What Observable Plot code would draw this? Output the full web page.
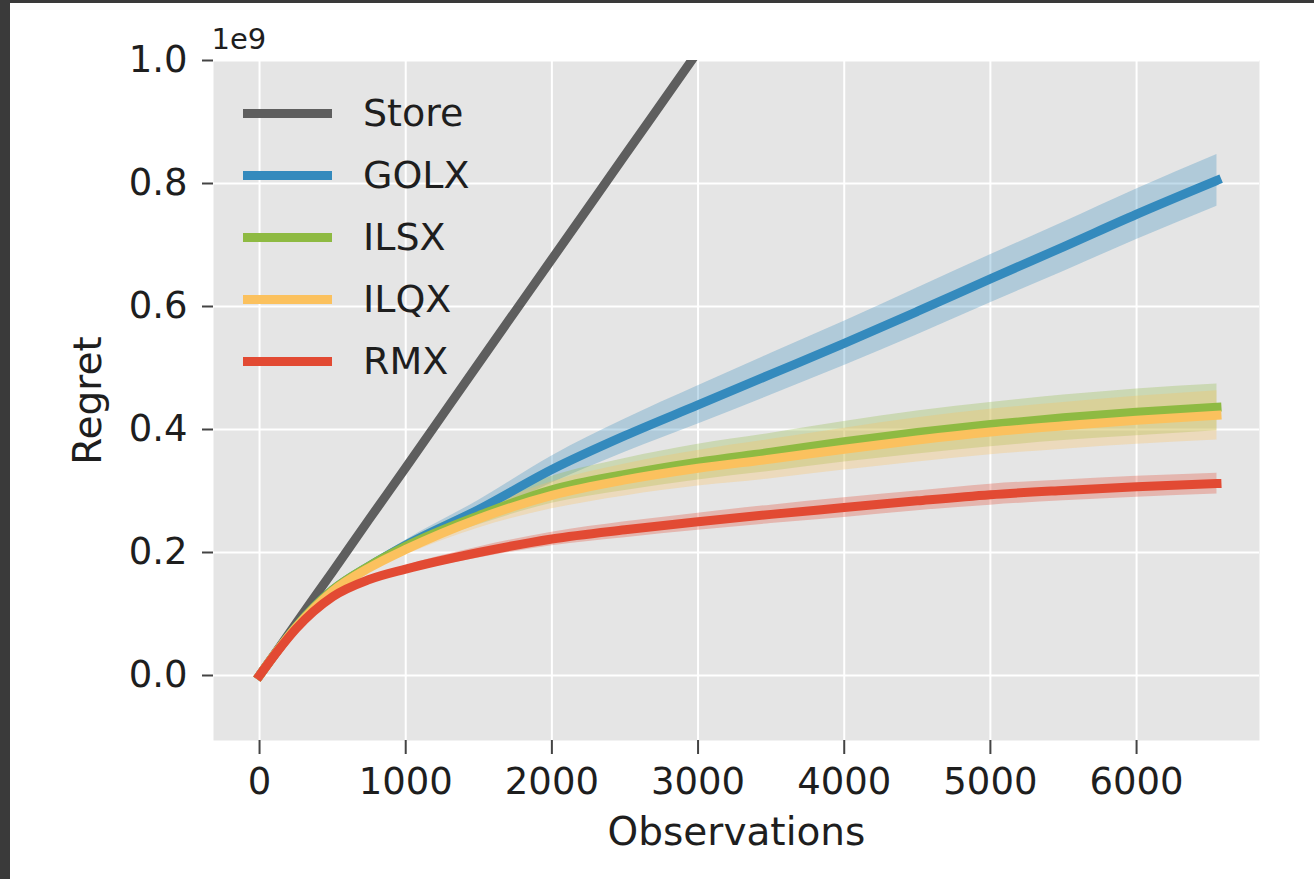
<!DOCTYPE html>
<html>
<head>
<meta charset="utf-8">
<script src="https://cdn.jsdelivr.net/npm/d3@7"></script>
<script src="https://cdn.jsdelivr.net/npm/@observablehq/plot@0.6"></script>
<style>
  html, body { margin: 0; padding: 0; }
  body { width: 1314px; height: 879px; background: #3a3a3a; position: relative; overflow: hidden; font-family: "DejaVu Sans", sans-serif; }
  #sheet { position: absolute; left: 10px; top: 3px; width: 1304px; height: 876px; background: #fff; }
  #chart { position: absolute; left: 0; top: 0; }
  #legend { position: absolute; left: 233px; top: 79px; }
  .row { display: flex; align-items: center; height: 62px; }
  .sw { width: 89px; height: 9px; margin-right: 31px; }
  .lab { font-size: 38px; color: #1e1e1e; line-height: 1; }
</style>
</head>
<body>
<div id="sheet">
  <div id="chart"></div>
  <div id="legend"></div>
</div>
<script>
// ---- data (regret in units of 1e9) ----
const observations = [0, 125, 250, 500, 750, 1000, 1500, 2000, 2500, 3000, 3500, 4000, 4500, 5000, 5500, 6000, 6550];
const seriesNames = ["Store", "GOLX", "ILSX", "ILQX", "RMX"];
const seriesColors = ["#5e5e5e", "#348ABD", "#8EBA42", "#FBC15E", "#E24A33"];
const storeRegret = [0, 0.042, 0.085, 0.169, 0.254, 0.338, 0.508, 0.677, 0.846, 1.015, 1.185, 1.354, 1.523, 1.692, 1.862, 2.031, 2.217];
const golxRegret  = [0, 0.041, 0.079, 0.139, 0.178, 0.212, 0.270, 0.335, 0.390, 0.440, 0.490, 0.540, 0.592, 0.645, 0.697, 0.750, 0.805];
const ilsxRegret  = [0, 0.041, 0.079, 0.139, 0.178, 0.210, 0.260, 0.302, 0.327, 0.347, 0.363, 0.380, 0.395, 0.408, 0.419, 0.428, 0.436];
const ilqxRegret  = [0, 0.041, 0.078, 0.137, 0.175, 0.205, 0.255, 0.293, 0.318, 0.337, 0.352, 0.368, 0.383, 0.396, 0.406, 0.415, 0.423];
const rmxRegret   = [0, 0.040, 0.076, 0.128, 0.156, 0.173, 0.200, 0.222, 0.237, 0.250, 0.262, 0.273, 0.284, 0.294, 0.301, 0.307, 0.312];
const storeSpread = [0, 0, 0, 0, 0, 0, 0, 0, 0, 0, 0, 0, 0, 0, 0, 0, 0];
const golxSpread  = [0, 0.001, 0.002, 0.003, 0.005, 0.008, 0.015, 0.022, 0.027, 0.031, 0.034, 0.036, 0.038, 0.039, 0.040, 0.041, 0.042];
const ilsxSpread  = [0, 0.001, 0.002, 0.004, 0.006, 0.009, 0.015, 0.022, 0.026, 0.029, 0.031, 0.033, 0.035, 0.036, 0.037, 0.038, 0.038];
const ilqxSpread  = [0, 0.001, 0.002, 0.004, 0.006, 0.009, 0.015, 0.022, 0.026, 0.029, 0.032, 0.034, 0.036, 0.037, 0.038, 0.039, 0.040];
const rmxSpread   = [0, 0.001, 0.002, 0.003, 0.004, 0.006, 0.009, 0.011, 0.013, 0.014, 0.015, 0.016, 0.016, 0.017, 0.017, 0.017, 0.017];
const xTicks = [0, 1000, 2000, 3000, 4000, 5000, 6000];
const yTicks = [0, 0.2, 0.4, 0.6, 0.8, 1.0];

// ---- build tidy rows ----
const seriesValues = [storeRegret, golxRegret, ilsxRegret, ilqxRegret, rmxRegret];
const seriesSpread = [storeSpread, golxSpread, ilsxSpread, ilqxSpread, rmxSpread];
const rows = [];
seriesNames.forEach((name, s) => {
  observations.forEach((x, i) => {
    rows.push({series: name, x, y: seriesValues[s][i], lo: seriesValues[s][i] - seriesSpread[s][i], hi: seriesValues[s][i] + seriesSpread[s][i]});
  });
});
const bandRows = rows.filter(d => d.series !== "Store");

const color = {domain: seriesNames, range: seriesColors};

const chart = Plot.plot({
  width: 1304,
  height: 876,
  marginLeft: 203,
  marginRight: 55,
  marginTop: 57,
  marginBottom: 139,
  style: {fontFamily: "DejaVu Sans", background: "white", color: "#1e1e1e"},
  x: {domain: [-315, 6841]},
  y: {domain: [-0.1057, 1.0]},
  color,
  marks: [
    Plot.frame({fill: "#E5E5E5"}),
    Plot.gridX({ticks: xTicks, stroke: "white", strokeOpacity: 1, strokeWidth: 2}),
    Plot.gridY({ticks: yTicks, stroke: "white", strokeOpacity: 1, strokeWidth: 2}),
    Plot.axisX({ticks: xTicks, tickSize: 14, tickPadding: 13, fontSize: 37, strokeWidth: 2, stroke: "#444", tickFormat: d => String(d), label: null}),
    Plot.axisY({ticks: yTicks, tickSize: 11, tickPadding: 15, fontSize: 37, strokeWidth: 2, stroke: "#444", tickFormat: d3.format(".1f"), label: null}),
    Plot.areaY(bandRows, {x: "x", y1: "lo", y2: "hi", z: "series", fill: "series", fillOpacity: 0.3, curve: "monotone-x"}),
    Plot.line(rows, {x: "x", y: "y", z: "series", stroke: "series", strokeWidth: 9, strokeLinecap: "square", curve: "monotone-x", clip: true}),
    Plot.text(["Observations"], {frameAnchor: "bottom", dy: 92, textAnchor: "middle", lineAnchor: "middle", fontSize: 39, fill: "#1e1e1e"}),
    Plot.text(["Regret"], {frameAnchor: "left", dx: -125, rotate: -90, textAnchor: "middle", lineAnchor: "middle", fontSize: 39, fill: "#1e1e1e"}),
    Plot.text(["1e9"], {frameAnchor: "top-left", dx: -2, dy: -12, textAnchor: "start", lineAnchor: "bottom", fontSize: 29, fill: "#1e1e1e"})
  ]
});
document.getElementById("chart").appendChild(chart);

// ---- legend ----
const legend = document.getElementById("legend");
seriesNames.forEach((name, i) => {
  const row = document.createElement("div");
  row.className = "row";
  const sw = document.createElement("span");
  sw.className = "sw";
  sw.style.background = seriesColors[i];
  const lab = document.createElement("span");
  lab.className = "lab";
  lab.textContent = name;
  row.appendChild(sw);
  row.appendChild(lab);
  legend.appendChild(row);
});
</script>
</body>
</html>
